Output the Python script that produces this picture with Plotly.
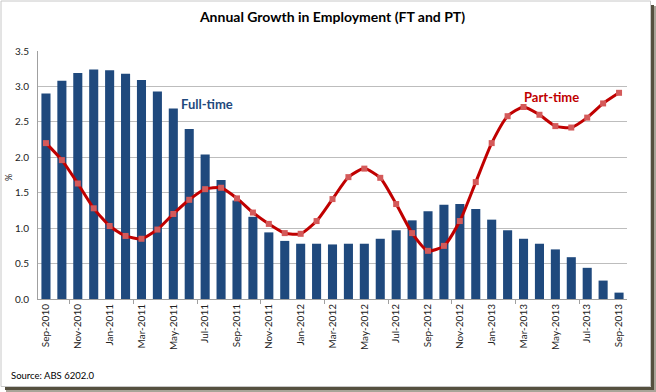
import plotly.graph_objects as go

months = ["Sep-2010","Oct-2010","Nov-2010","Dec-2010","Jan-2011","Feb-2011","Mar-2011","Apr-2011",
          "May-2011","Jun-2011","Jul-2011","Aug-2011","Sep-2011","Oct-2011","Nov-2011","Dec-2011",
          "Jan-2012","Feb-2012","Mar-2012","Apr-2012","May-2012","Jun-2012","Jul-2012","Aug-2012",
          "Sep-2012","Oct-2012","Nov-2012","Dec-2012","Jan-2013","Feb-2013","Mar-2013","Apr-2013",
          "May-2013","Jun-2013","Jul-2013","Aug-2013","Sep-2013"]

full_time = [2.90, 3.08, 3.19, 3.24, 3.23, 3.18, 3.09, 2.93,
             2.69, 2.40, 2.04, 1.68, 1.39, 1.16, 0.94, 0.82,
             0.78, 0.78, 0.77, 0.78, 0.78, 0.85, 0.97, 1.11,
             1.24, 1.33, 1.34, 1.27, 1.12, 0.97, 0.85, 0.78,
             0.70, 0.59, 0.44, 0.26, 0.09]

part_time = [2.20, 1.96, 1.63, 1.28, 1.03, 0.89, 0.85, 0.98,
             1.20, 1.40, 1.55, 1.57, 1.42, 1.22, 1.06, 0.93,
             0.92, 1.10, 1.41, 1.72, 1.84, 1.71, 1.34, 0.93,
             0.68, 0.75, 1.10, 1.65, 2.20, 2.58, 2.71, 2.60,
             2.44, 2.42, 2.56, 2.76, 2.91]

y_ticks = [0.0, 0.5, 1.0, 1.5, 2.0, 2.5, 3.0, 3.5]

W, H = 656, 392
L, R, T, B = 38, 29, 51, 93
PW, PH = W - L - R, H - T - B

def px(x):
    return (x - L) / PW

def py(y):
    return (H - B - y) / PH

xs = list(range(len(months)))
FONT = "Lato"

fig = go.Figure()
fig.add_trace(go.Bar(x=xs, y=full_time, marker=dict(color="#1F497D", line=dict(width=0)),
                     name="Full-time", showlegend=False))
fig.add_trace(go.Scatter(x=xs, y=part_time, mode="lines+markers", name="Part-time",
                         line=dict(color="#C00000", width=3, shape="spline", smoothing=0.6),
                         marker=dict(symbol="square", size=6, color="#D45A5A"),
                         showlegend=False))

shapes = [
    # shadow
    dict(type="rect", xref="paper", yref="paper", x0=px(651), x1=px(654), y0=py(5), y1=py(390),
         fillcolor="#55503f", line=dict(width=0), layer="below"),
    dict(type="rect", xref="paper", yref="paper", x0=px(654), x1=px(656), y0=py(6), y1=py(392),
         fillcolor="#a8a498", line=dict(width=0), layer="below"),
    dict(type="rect", xref="paper", yref="paper", x0=px(5), x1=px(654), y0=py(387), y1=py(390),
         fillcolor="#55503f", line=dict(width=0), layer="below"),
    dict(type="rect", xref="paper", yref="paper", x0=px(6), x1=px(656), y0=py(390), y1=py(392),
         fillcolor="#a8a498", line=dict(width=0), layer="below"),
    # frame
    dict(type="rect", xref="paper", yref="paper", x0=px(1), x1=px(650.5), y0=py(1), y1=py(386.5),
         line=dict(color="#c8c8c8", width=1), layer="below"),
]

fig.update_layout(
    width=W, height=H,
    margin=dict(l=L, r=R, t=T, b=B, autoexpand=False),
    paper_bgcolor="white", plot_bgcolor="white",
    bargap=0.43,
    font=dict(family=FONT, color="#333333"),
    title=dict(text="<b>Annual Growth in Employment (FT and PT)</b>", x=0.5, xref="paper",
               xanchor="center", y=1 - 17 / H, yanchor="middle", automargin=False,
               font=dict(size=14, color="#000000", family=FONT)),
    xaxis=dict(range=[-0.5, len(months) - 0.5], tickmode="array", tickvals=xs[::2],
               ticktext=months[::2], tickangle=-90, tickfont=dict(size=10, color="#222222"),
               showgrid=False, zeroline=False, showline=True, linecolor="#a0a0a0", linewidth=1,
               ticks="", automargin=False,
               minor=dict(tickvals=[1.5 + 4 * i for i in range(9)], ticks="outside",
                          ticklen=4, tickcolor="#a0a0a0", showgrid=False)),
    yaxis=dict(range=[0, 3.5], tickmode="array", tickvals=y_ticks, automargin=False,
               ticktext=[f"{v:.1f}" for v in y_ticks], tickfont=dict(size=10, color="#222222"),
               showgrid=True, gridcolor="#bdbdbd", gridwidth=1, zeroline=False,
               showline=True, linecolor="#a0a0a0", linewidth=1, ticks="", ticklabelstandoff=6),
    shapes=shapes,
    annotations=[
        dict(text="<b>Full-time</b>", x=8.35, y=2.75, xref="x", yref="y", xanchor="left",
             yanchor="middle", showarrow=False, font=dict(size=13, color="#1F497D", family=FONT)),
        dict(text="<b>Part-time</b>", x=29.9, y=2.855, xref="x", yref="y", xanchor="left",
             yanchor="middle", showarrow=False, font=dict(size=13, color="#C00000", family=FONT)),
        dict(text="%", x=px(8), y=py(178), xref="paper", yref="paper", textangle=-90,
             xanchor="center", yanchor="middle",
             showarrow=False, font=dict(size=9, color="#222222", family=FONT)),
        dict(text="Source: ABS 6202.0", x=px(9), y=py(375), xref="paper", yref="paper",
             xanchor="left", yanchor="middle", showarrow=False,
             font=dict(size=9.5, color="#000000", family=FONT)),
    ],
)

fig.write_html("out.html", config={"displayModeBar": False},
               post_script="document.body.style.margin='0';document.body.style.overflow='hidden';")
